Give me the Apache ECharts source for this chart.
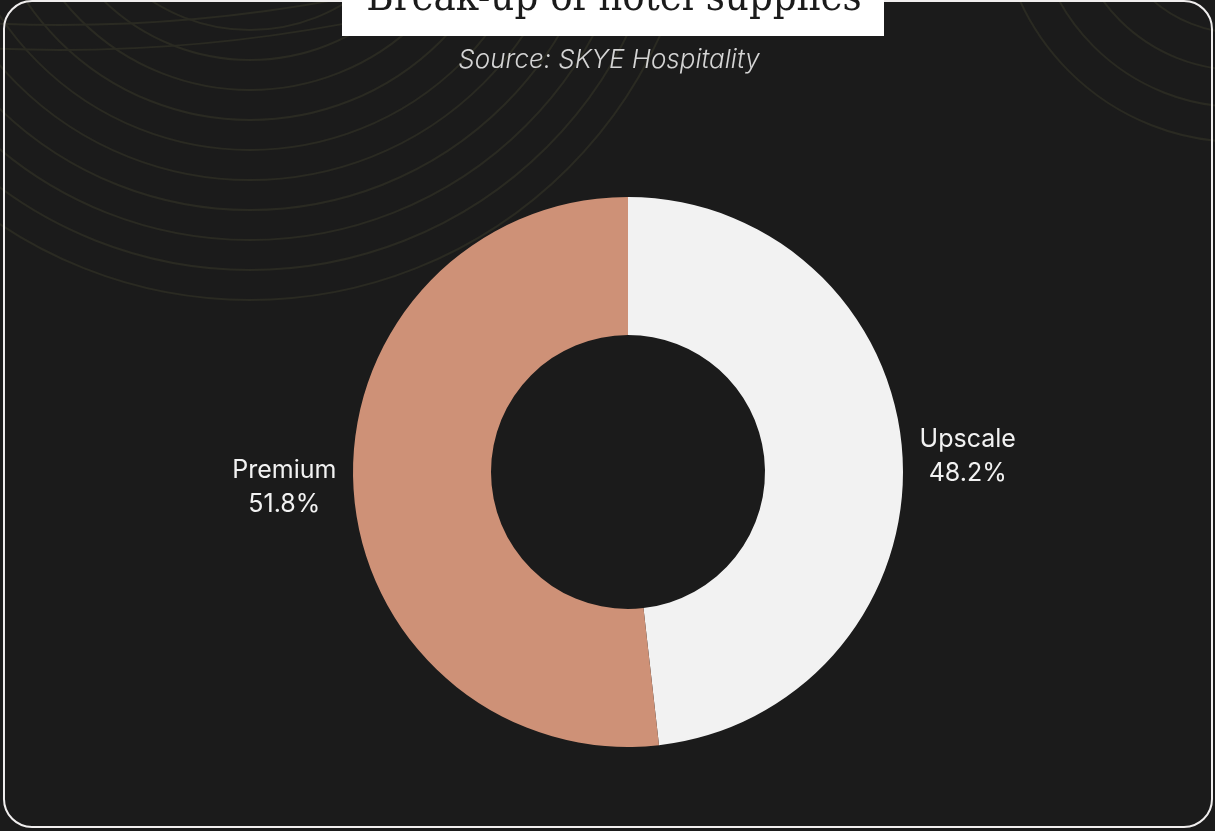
<!DOCTYPE html>
<html>
<head>
<meta charset="utf-8">
<title>Break-up of hotel supplies</title>
<script src="https://cdn.jsdelivr.net/npm/echarts@6/dist/echarts.min.js"></script>
<style>
  html, body { margin: 0; padding: 0; background: #1b1b1b; }
  #chart { width: 1215px; height: 831px; }
</style>
</head>
<body>
<div id="chart"></div>
<script>
// data
var categories = ['Upscale', 'Premium'];
var shares = [48.2, 51.8];
var sliceColors = ['#f2f2f2', '#ce9177'];

var titleText = 'Break-up of hotel supplies';
var sourceText = 'Source: SKYE Hospitality';

// faint decorative rings behind the chart
var ringColor = '#2a2a22';
function ring(cx, cy, r) {
	return {
		type: 'circle',
		silent: true,
		shape: { cx: cx, cy: cy, r: r },
		style: { fill: null, stroke: ringColor, lineWidth: 2 }
	};
}
var decor = [];
for (var r = 180; r <= 450; r += 30) decor.push(ring(250, -150, r));
decor.push(ring(60, -1500, 1525));
decor.push(ring(60, -1500, 1550));
[133, 170, 207, 242].forEach(function (rr) { decor.push(ring(1240, -100, rr)); });

var chart = echarts.init(document.getElementById('chart'));

var pieData = [];
for (var i = 0; i < categories.length; i++) {
	pieData.push({ name: categories[i], value: shares[i], itemStyle: { color: sliceColors[i] } });
}

var option = {
	backgroundColor: '#1b1b1b',
	animation: false,
	graphic: decor.concat([
		{
			type: 'rect',
			silent: true,
			shape: { x: 4, y: 1, width: 1208, height: 826, r: 28 },
			style: { fill: null, stroke: '#f0eeee', lineWidth: 2 }
		},
		{
			type: 'rect',
			silent: true,
			shape: { x: 342, y: -10, width: 542, height: 46 },
			style: { fill: '#ffffff' }
		},
		{
			type: 'text',
			silent: true,
			x: 614,
			y: -1,
			style: {
				text: titleText,
				fill: '#1b1b1b',
				font: '41.5px "DejaVu Serif Condensed", "Liberation Serif", serif',
				align: 'center',
				verticalAlign: 'middle'
			}
		},
		{
			type: 'text',
			silent: true,
			x: 609,
			y: 60,
			style: {
				text: sourceText,
				fill: '#d4d4d4',
				font: 'italic 300 26px Inter, "Open Sans", sans-serif',
				align: 'center',
				verticalAlign: 'middle'
			}
		}
	]),
	series: [
		{
			type: 'pie',
			center: [628, 472],
			radius: [137, 275],
			startAngle: 90,
			clockwise: true,
			silent: true,
			emphasis: { disabled: true },
			itemStyle: { borderWidth: 0 },
			label: {
				show: true,
				position: 'outside',
				formatter: '{b}\n{c}%',
				color: '#f2f2f2',
				fontFamily: 'Inter, "Open Sans", sans-serif',
				fontSize: 25,
				lineHeight: 34
			},
			labelLine: { show: false, length: 4, length2: 8 },
			labelLayout: function (params) {
				var rc = params.labelRect;
				return {
					x: rc.x + rc.width / 2,
					y: rc.y + rc.height / 2,
					align: 'center',
					verticalAlign: 'middle'
				};
			},
			data: pieData
		}
	]
};

chart.setOption(option);
</script>
</body>
</html>
